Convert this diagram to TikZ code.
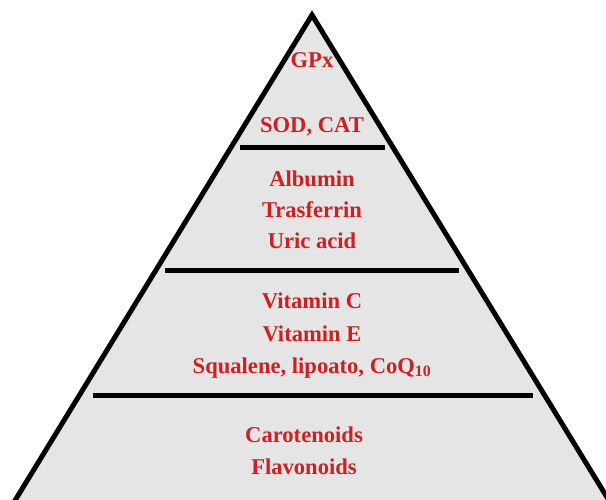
\documentclass[tikz,border=0pt]{standalone}
\usepackage{fontspec}
\setmainfont{Liberation Serif}
\usepackage{xcolor}
\usepackage{tikz}
\usetikzlibrary{positioning}
\definecolor{labelred}{RGB}{206,32,34}
\definecolor{pyrgray}{RGB}{229,229,229}

\begin{document}
\begin{tikzpicture}[x=1pt,y=-1pt,
  tier/.style={line width=5pt},
  item/.style={text=labelred,font=\fontsize{22.6}{26}\selectfont\bfseries,anchor=base,inner sep=0pt}]
\useasboundingbox (0,0) rectangle (606,499);
% ---------- pyramid body ----------
\begin{scope}
\clip (0,0) rectangle (606,499);
\coordinate (apex) at (312,15);
\coordinate (baseL) at (0,525);
\coordinate (baseR) at (624,525);
\filldraw[fill=pyrgray,line width=5pt,line join=miter] (baseL) -- (apex) -- (baseR) -- cycle;
\end{scope}
% ---------- tier dividers ----------
\draw[tier] (240,147) -- (385,147);
\draw[tier] (165,270) -- (459,270);
\draw[tier] (93,395) -- (533,395);
% ---------- labels ----------
\node[item] (gpx) at (312,67) {GPx};
\node[item] (sodcat) at (312,132) {SOD, CAT};
\node[item] (albumin) at (312,186) {Albumin};
\node[item] (trasferrin) at (312,217) {Trasferrin};
\node[item] (uric) at (312,248) {Uric acid};
\node[item] (vitc) at (312,308) {Vitamin C};
\node[item] (vite) at (312,341) {Vitamin E};
\node[item] (squalene) at (312,373) {Squalene, lipoato, CoQ\textsubscript{10}};
\node[item] (carot) at (304,442) {Carotenoids};
\node[item] (flavo) at (304,474) {Flavonoids};
\end{tikzpicture}
\end{document}
